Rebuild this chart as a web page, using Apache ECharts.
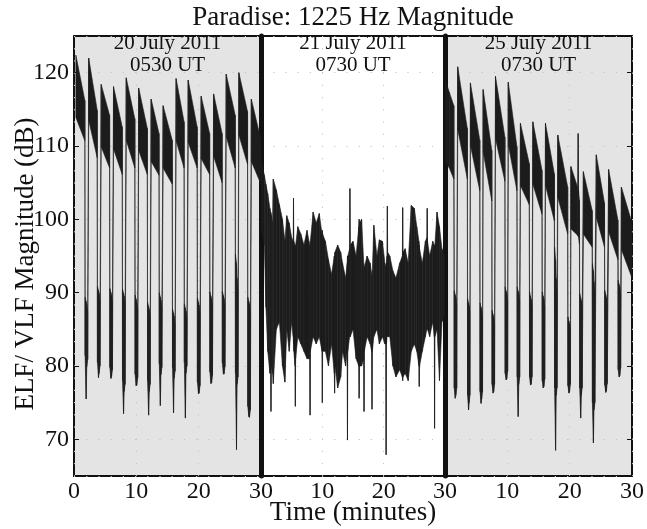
<!DOCTYPE html>
<html>
<head>
<meta charset="utf-8">
<script src="https://cdn.jsdelivr.net/npm/echarts@6/dist/echarts.min.js"></script>
<style>html,body{margin:0;padding:0;background:#fff}#c{width:647px;height:529px}</style>
</head>
<body>
<div id="c"></div>
<script>
// ---- data: [minute within panel, low dB, high dB] envelope samples ----
const panelTitles = ['20 July 2011\n0530 UT', '21 July 2011\n0730 UT', '25 July 2011\n0730 UT'];
const chartTitle = 'Paradise: 1225 Hz Magnitude';
const xName = 'Time (minutes)';
const yName = 'ELF/ VLF Magnitude (dB)';

const panel1 = [
[0.30,113.9,122.4],[1.74,110.7,116.2],
[1.78,81.4,89.4],[1.95,75.5,88.8],[2.05,79.9,88.4],[2.20,80.9,87.4],
[2.36,113.5,122.0],[3.72,108.4,114.9],
[3.76,80.5,90.9],[3.93,78.4,90.3],[4.03,79.0,89.9],[4.18,80.0,88.9],
[4.36,109.9,118.4],[5.71,107.0,114.2],
[5.75,79.8,90.6],[5.92,78.3,90.0],[6.02,78.5,89.6],[6.17,79.5,88.6],
[6.34,109.6,118.1],[7.74,106.1,112.6],
[7.78,78.0,90.5],[7.95,73.5,89.9],[8.05,76.5,89.5],[8.20,77.5,88.5],
[8.38,110.8,119.3],[9.76,107.0,113.7],
[9.80,78.9,89.7],[9.97,77.3,89.1],[10.07,77.4,88.7],[10.22,78.4,87.7],
[10.38,109.4,117.9],[11.76,106.1,112.4],
[11.80,78.0,88.7],[11.97,73.3,88.1],[12.07,76.5,87.7],[12.22,77.5,86.7],
[12.38,107.9,116.4],[13.64,106.0,111.7],
[13.68,80.3,90.0],[13.85,74.6,89.4],[13.95,78.8,89.0],[14.10,79.8,88.0],
[14.30,107.0,115.5],[15.76,104.8,110.8],
[15.80,79.8,87.8],[15.97,73.6,87.2],[16.07,78.3,86.8],[16.22,79.3,85.8],
[16.38,110.7,119.2],[17.66,107.0,113.3],
[17.70,80.5,88.5],[17.87,72.9,87.9],[17.97,79.0,87.5],[18.12,80.0,86.5],
[18.32,110.5,119.0],[19.76,107.0,112.6],
[19.80,77.8,89.3],[19.97,76.2,88.7],[20.07,76.3,88.3],[20.22,77.3,87.3],
[20.40,108.3,116.8],[21.76,106.1,111.7],
[21.80,79.2,90.1],[21.97,77.6,89.5],[22.07,77.7,89.1],[22.22,78.7,88.1],
[22.40,108.6,117.1],[23.76,105.0,111.7],
[23.80,80.4,90.2],[23.97,78.9,89.6],[24.07,78.9,89.2],[24.22,79.9,88.2],
[24.42,111.3,119.8],[25.86,107.0,114.2],
[25.90,79.0,95.3],[26.07,68.6,94.0],[26.17,77.5,92.0],[26.32,78.5,90.0],
[26.45,111.5,120.0],[27.84,107.5,114.7],
[27.88,74.5,89.4],[28.05,73.1,88.8],[28.15,73.0,88.4],[28.30,74.0,87.4],
[28.45,107.9,116.4],[30.00,104.8,110.8]
];

const panel2 = [
[0.00,99.0,108.5],[0.30,97.5,107.0],[0.55,96.5,106.0],[0.80,88.0,104.8],[1.10,82.0,103.5],
[1.45,79.0,101.5],[1.58,79.5,101.0],[1.63,73.8,100.8],[1.68,80.0,100.5],[1.90,79.0,99.5],
[2.00,77.6,105.5],[2.50,85.0,104.0],[3.00,86.0,102.0],[3.50,80.0,100.0],[3.90,77.8,97.0],
[4.20,85.0,100.5],[4.60,82.0,99.5],[5.00,86.0,97.5],[5.25,84.0,97.0],[5.30,83.0,102.9],
[5.35,82.0,97.0],[5.55,80.0,96.5],[5.60,74.5,96.0],[5.65,81.0,96.5],[6.00,84.0,99.0],
[6.50,83.0,98.0],[7.00,82.0,96.5],[7.50,81.0,98.5],[7.95,81.0,96.5],[8.00,73.3,96.0],
[8.05,82.0,97.0],[8.50,84.0,101.0],[9.00,83.0,99.5],[9.50,84.0,100.8],[9.95,82.0,98.0],
[10.00,75.0,98.5],[10.05,82.0,98.0],[10.50,82.0,97.0],[11.00,80.0,94.5],[11.50,83.0,92.5],
[11.95,79.0,95.0],[12.00,76.3,95.0],[12.05,80.0,95.5],[12.50,77.0,96.5],[13.00,78.5,95.5],
[13.30,82.0,94.0],[13.80,80.0,92.0],[14.05,82.0,94.0],[14.10,69.9,95.0],[14.15,82.0,95.0],
[14.45,84.0,96.0],[14.50,84.0,104.2],[14.55,84.0,96.5],[15.00,85.0,97.0],[15.50,81.0,95.0],
[15.95,80.0,99.0],[16.00,75.6,100.0],[16.05,80.0,99.5],[16.40,80.0,100.0],[16.75,81.0,94.0],
[16.80,73.8,93.0],[16.85,82.0,93.5],[17.30,84.0,95.0],[17.80,83.0,94.0],[18.05,82.0,92.5],
[18.10,74.1,92.0],[18.15,82.0,93.0],[18.40,84.0,99.2],[18.90,85.0,95.0],[19.30,83.0,97.2],
[19.80,84.0,97.0],[20.20,83.0,94.0],[20.35,83.0,93.5],[20.40,67.9,93.0],[20.45,83.0,94.0],
[20.55,84.0,95.0],[20.60,85.0,101.8],[20.65,84.0,95.5],[21.00,84.0,95.0],[21.50,80.0,93.0],
[22.00,78.5,92.0],[22.60,79.5,94.0],[23.05,78.5,95.0],[23.10,78.0,101.6],[23.15,78.5,95.5],
[23.50,79.0,96.0],[24.00,78.0,94.0],[24.50,82.0,101.9],[25.00,83.0,101.5],[25.40,82.0,99.0],
[25.75,80.0,97.0],[25.80,77.2,96.5],[25.85,80.0,96.0],[26.30,82.0,94.0],[26.80,84.0,97.0],
[27.05,85.0,97.5],[27.10,85.0,101.5],[27.15,85.0,97.0],[27.50,84.0,95.0],[28.00,86.0,97.0],
[28.25,84.0,96.5],[28.30,71.5,96.0],[28.35,84.0,96.5],[28.70,85.0,101.0],[29.10,78.0,99.0],
[29.50,86.0,96.0],[30.00,87.0,95.0]
];

const panel3 = [
[0.05,108.0,119.0],[0.70,107.0,117.3],[1.42,105.5,115.5],
[1.48,77.0,90.3],[1.64,75.6,89.7],[1.74,76.0,89.3],[1.88,77.0,88.3],
[2.04,112.3,120.8],[3.58,105.5,112.4],
[3.62,76.0,89.2],[3.78,74.0,88.6],[3.88,75.0,88.2],[4.00,76.0,87.2],
[4.08,110.1,118.6],[5.58,103.9,110.8],
[5.62,76.5,88.6],[5.78,74.9,88.0],[5.88,75.5,87.6],[6.02,76.5,86.6],
[6.12,109.2,117.7],[7.51,102.5,109.4],
[7.55,77.5,87.6],[7.71,76.3,87.0],[7.81,76.5,86.6],[7.95,77.5,85.6],
[8.10,111.0,119.5],[9.61,105.2,111.2],
[9.65,79.0,90.8],[9.81,78.1,90.2],[9.91,78.3,89.8],[10.05,79.3,88.8],
[10.15,110.2,118.7],[11.54,103.9,109.9],
[11.58,78.5,90.8],[11.74,73.1,90.2],[11.84,77.5,89.8],[11.98,78.5,88.8],
[12.10,104.6,113.1],[13.52,102.0,107.6],
[13.56,78.5,90.1],[13.72,77.4,89.5],[13.82,77.5,89.1],[13.96,78.5,88.1],
[14.10,104.8,113.3],[15.56,100.7,106.7],
[15.60,78.0,90.1],[15.76,77.0,89.5],[15.86,77.2,89.1],[16.00,78.2,88.1],
[16.12,104.6,113.1],[17.54,99.8,106.2],
[17.58,77.0,96.2],[17.74,68.5,94.5],[17.84,76.0,92.0],[17.98,77.0,90.0],
[18.10,103.0,111.5],[19.68,98.0,104.4],
[19.72,77.3,86.7],[19.88,76.3,86.1],[19.98,76.5,85.7],[20.12,77.5,84.8],
[20.20,98.7,107.2],[21.30,97.8,104.3],[21.36,97.7,111.7],[21.42,97.6,104.0],[21.57,96.6,102.6],
[21.61,77.0,89.9],[21.77,72.9,89.3],[21.87,76.0,88.9],[22.01,77.0,87.9],
[22.20,98.0,106.5],[23.61,96.2,101.2],
[23.65,75.0,94.0],[23.81,69.5,93.0],[23.91,74.0,91.5],[24.05,75.0,90.0],
[24.27,100.3,108.8],[25.59,96.2,102.2],
[25.63,77.4,90.3],[25.79,76.4,89.7],[25.89,76.6,89.3],[26.03,77.6,88.3],
[26.25,98.3,106.8],[27.74,94.5,99.9],
[27.78,79.5,91.7],[27.94,78.5,91.1],[28.04,78.7,90.7],[28.18,79.7,89.7],
[28.30,95.9,104.4],[30.00,92.0,99.5]
];

// ---- chart ----
const FONT = '"Liberation Serif", "DejaVu Serif", serif';
const INK = '#111111';
const DATA_INK = '#1c1c1c';
const chart = echarts.init(document.getElementById('c'), null, {renderer: 'canvas'});

function makeRender(arr) {
  return function (params, api) {
    const i = params.dataIndex;
    if (i >= arr.length - 1) return null;
    const a = arr[i], b = arr[i + 1];
    const pts = [
      api.coord([a[0], a[2]]), api.coord([b[0], b[2]]),
      api.coord([b[0], b[1]]), api.coord([a[0], a[1]])
    ];
    return {type: 'polygon', shape: {points: pts},
      style: {fill: DATA_INK, stroke: DATA_INK, lineWidth: 0.6}};
  };
}

const dotted = {show: true, lineStyle: {color: '#c4c4c4', width: 1, type: [1.2, 11]}};
const gridCommon = {top: 36, height: 440, show: true, borderColor: INK, borderWidth: 2,
  containLabel: false, outerBoundsMode: 'none'};
const grids = [
  Object.assign({left: 74, width: 187, backgroundColor: '#e4e4e4'}, gridCommon),
  Object.assign({left: 261, width: 184, backgroundColor: '#ffffff'}, gridCommon),
  Object.assign({left: 445, width: 187, backgroundColor: '#e4e4e4'}, gridCommon)
];
const centers = [167.5, 353, 538.5];

const xAxes = [0, 1, 2].map(i => ({
  gridIndex: i, type: 'value', min: 0, max: 30, interval: 10,
  axisLine: {show: false}, axisTick: {show: false},
  splitLine: dotted,
  axisLabel: {fontFamily: FONT, fontSize: 24, color: INK, margin: 4,
    showMinLabel: true, showMaxLabel: true, hideOverlap: false,
    formatter: v => (i > 0 && v === 0) ? '' : String(v)},
  name: i === 1 ? xName : '', nameLocation: 'middle', nameGap: 23, nameMoveOverlap: false,
  nameTextStyle: {fontFamily: FONT, fontSize: 27, color: INK}
}));

const yBase = {type: 'value', min: 65, max: 125, splitNumber: 6};
const yAxes = [
  Object.assign({}, yBase, {gridIndex: 0,
    axisLine: {show: false},
    axisTick: {show: true, inside: true, length: 5, lineStyle: {color: INK, width: 1}},
    axisLabel: {fontFamily: FONT, fontSize: 24, color: INK, margin: 5, showMinLabel: false, showMaxLabel: false},
    splitLine: dotted,
    name: yName, nameLocation: 'middle', nameGap: 35, nameMoveOverlap: false,
    nameTextStyle: {fontFamily: FONT, fontSize: 27, color: INK, padding: [0, 16, 0, 0]}}),
  Object.assign({}, yBase, {gridIndex: 1,
    axisLine: {show: true, lineStyle: {color: INK, width: 5}},
    axisTick: {show: false}, axisLabel: {show: false}, splitLine: dotted}),
  Object.assign({}, yBase, {gridIndex: 2,
    axisLine: {show: true, lineStyle: {color: INK, width: 5}},
    axisTick: {show: false}, axisLabel: {show: false}, splitLine: dotted}),
  Object.assign({}, yBase, {gridIndex: 2, position: 'right',
    axisLine: {show: false},
    axisTick: {show: true, inside: true, length: 5, lineStyle: {color: INK, width: 1}},
    axisLabel: {show: false}, splitLine: {show: false}})
];

const titles = [{text: chartTitle, left: 353, top: 4, textAlign: 'center', padding: 0,
  textStyle: {fontFamily: FONT, fontSize: 27, fontWeight: 'normal', color: INK, lineHeight: 27}}]
  .concat(panelTitles.map((t, i) => ({text: t, left: centers[i], top: 33, textAlign: 'center', padding: 0,
    textStyle: {fontFamily: FONT, fontSize: 21, fontWeight: 'normal', color: INK, lineHeight: 21.7}})));

const panels = [panel1, panel2, panel3];
const series = panels.map((arr, i) => ({
  type: 'custom', xAxisIndex: i, yAxisIndex: i, data: arr,
  encode: {x: 0, y: [1, 2]}, renderItem: makeRender(arr), clip: true, z: 2
}));

chart.setOption({
  animation: false,
  backgroundColor: '#ffffff',
  title: titles,
  grid: grids,
  xAxis: xAxes,
  yAxis: yAxes,
  series: series
});
</script>
</body>
</html>
